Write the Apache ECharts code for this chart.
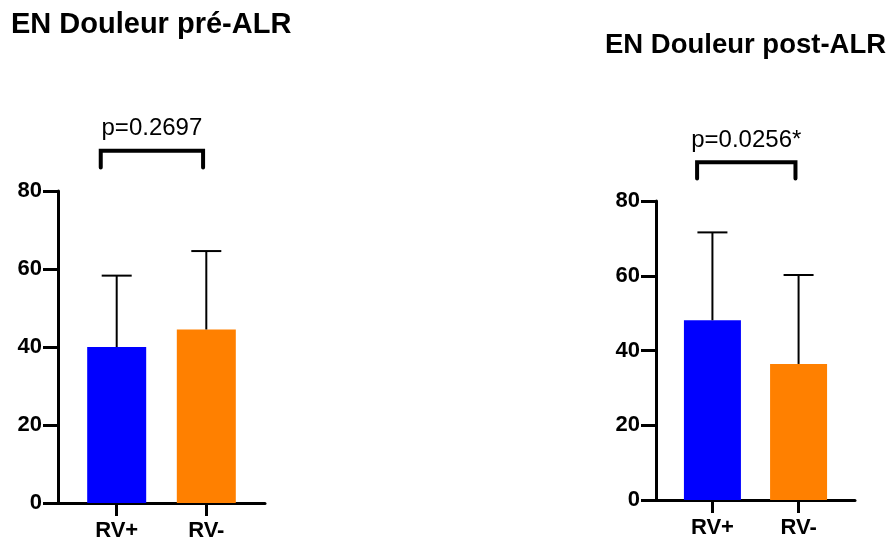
<!DOCTYPE html>
<html>
<head>
<meta charset="utf-8">
<script src="https://cdn.jsdelivr.net/npm/echarts@6/dist/echarts.min.js"></script>
<style>html,body{margin:0;padding:0;background:#fff}#c{width:895px;height:543px}</style>
</head>
<body>
<div id="c"></div>
<script>
const categories = ['RV+', 'RV-'];
const titles = ['EN Douleur pré-ALR', 'EN Douleur post-ALR'];
const preMeans = [40, 44.5];
const preSD = [18.3, 20.1];
const postMeans = [48.1, 36.4];
const postSD = [23.5, 23.8];
const pLabels = ['p=0.2697', 'p=0.0256*'];
const bracketLevel = [90.3, 90.4];
const bracketFoot = [86, 86];
const yTicks = { min: 0, max: 80, interval: 20 };

const means = [preMeans, postMeans];
const sds = [preSD, postSD];
const colors = ['#0000ff', '#ff8000'];
const FONT = 'Liberation Sans, Arial, sans-serif';

const chart = echarts.init(document.getElementById('c'), null, { renderer: 'canvas' });

const grids = [
  { left: 58, top: 191, width: 207, bottom: 40 },
  { left: 656, top: 201, width: 199, bottom: 43 }
];
const barWidths = [59, 57];

const xAxes = [0, 1].map(i => ({
  gridIndex: i, type: 'value', min: -0.655, max: 1.655,
  splitLine: { show: false },
  axisLine: { show: true, lineStyle: { color: '#000', width: 3 } },
  axisTick: { show: true, customValues: [0, 1], length: 13, lineStyle: { color: '#000', width: 3 } },
  axisLabel: { customValues: [0, 1], formatter: v => categories[Math.round(v)], margin: 17,
    color: '#000', fontFamily: FONT, fontWeight: 'bold', fontSize: 22 }
}));
const yAxes = [0, 1].map(i => ({
  gridIndex: i, type: 'value', min: yTicks.min, max: yTicks.max, interval: yTicks.interval,
  splitLine: { show: false },
  axisLine: { show: true, onZero: false, lineStyle: { color: '#000', width: 3 } },
  axisTick: { show: true, length: 15, lineStyle: { color: '#000', width: 3 } },
  axisLabel: { margin: 16, color: '#000', fontFamily: FONT, fontWeight: 'bold', fontSize: 22 }
}));

const series = [];
[0, 1].forEach(i => {
  series.push({
    type: 'bar', xAxisIndex: i, yAxisIndex: i, barWidth: barWidths[i],
    data: means[i].map((m, k) => ({ value: [k, m], itemStyle: { color: colors[k] } })),
    z: 2
  });
  series.push({
    type: 'custom', xAxisIndex: i, yAxisIndex: i, z: 3,
    data: means[i].map((m, k) => [k, m, m + sds[i][k]]),
    renderItem: (params, api) => {
      const p0 = api.coord([api.value(0), api.value(1)]);
      const p1 = api.coord([api.value(0), api.value(2)]);
      const st = { stroke: '#000', lineWidth: 2 };
      return { type: 'group', children: [
        { type: 'line', shape: { x1: p0[0], y1: p0[1], x2: p1[0], y2: p1[1] }, style: st },
        { type: 'line', shape: { x1: p1[0] - 15, y1: p1[1], x2: p1[0] + 15, y2: p1[1] }, style: st }
      ] };
    }
  });
  series.push({
    type: 'custom', xAxisIndex: i, yAxisIndex: i, z: 3, clip: false,
    data: [[-0.178, 0.964, bracketLevel[i], bracketFoot[i]]],
    renderItem: (params, api) => {
      const a = api.coord([api.value(0), api.value(3)]);
      const b = api.coord([api.value(0), api.value(2)]);
      const c = api.coord([api.value(1), api.value(2)]);
      const d = api.coord([api.value(1), api.value(3)]);
      return { type: 'group', children: [
        { type: 'polyline', shape: { points: [a, b, c, d] },
          style: { stroke: '#000', lineWidth: 4, fill: null, lineJoin: 'miter', lineCap: 'round' } },
        { type: 'text', x: (b[0] + c[0]) / 2, y: b[1] - 22,
          style: { text: pLabels[i], align: 'center', verticalAlign: 'middle',
            fontSize: 24, fontFamily: FONT, fill: '#000' } }
      ] };
    }
  });
});

chart.setOption({
  animation: false,
  backgroundColor: '#fff',
  title: [
    { text: titles[0], left: 11, top: 10, padding: 0, textStyle: { fontFamily: FONT, fontWeight: 'bold', fontSize: 29, color: '#000' } },
    { text: titles[1], left: 605, top: 31, padding: 0, textStyle: { fontFamily: FONT, fontWeight: 'bold', fontSize: 27.5, color: '#000' } }
  ],
  grid: grids,
  xAxis: xAxes,
  yAxis: yAxes,
  series: series
});
</script>
</body>
</html>
